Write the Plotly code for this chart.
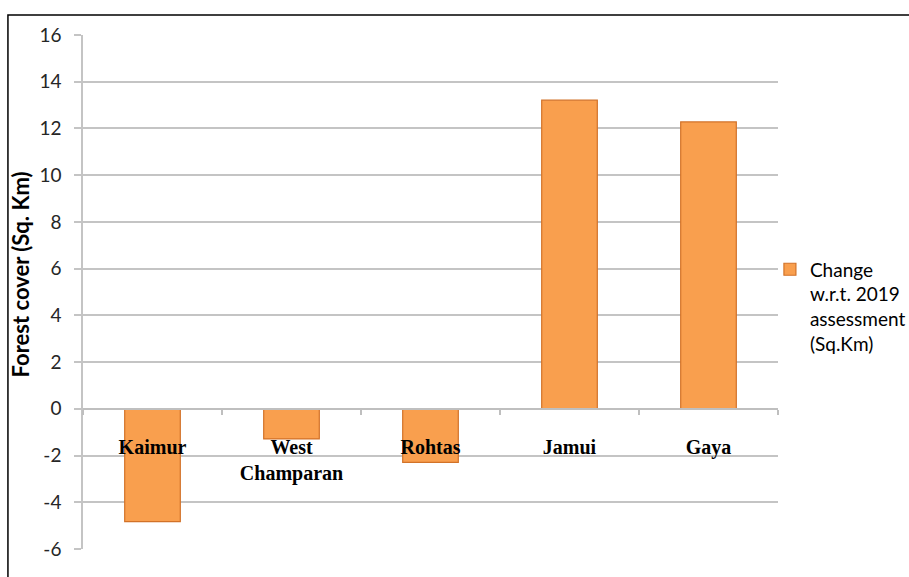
import plotly.graph_objects as go

districts = ["Kaimur", "West<br>Champaran", "Rohtas", "Jamui", "Gaya"]
change = [-4.83, -1.29, -2.29, 13.21, 12.28]
series_name = "Change<br>w.r.t. 2019<br>assessment<br>(Sq.Km)"
y_ticks = list(range(-6, 17, 2))
y_ticktext = ["-6", "-4", "-2", "0", "2", "4", "6", "8", "10", "12", "14", "16"]
y_min, y_max = -6, 16

fig = go.Figure()
fig.add_trace(go.Bar(
    x=districts, y=change, name=series_name,
    marker=dict(color="#F99F4E", line=dict(color="#D27228", width=1.2)),
    width=0.4,
))
# invisible trace to carry the zero-crossing category axis
fig.add_trace(go.Scatter(x=districts, y=change, mode="none", xaxis="x2",
                         showlegend=False, hoverinfo="skip"))

fig.update_layout(
    width=909, height=577,
    margin=dict(l=83, r=131, t=35, b=28, autoexpand=False),
    paper_bgcolor="white", plot_bgcolor="white",
    showlegend=True,
    legend=dict(xref="container", yref="container",
                x=0.847, y=0.566, xanchor="left", yanchor="top",
                valign="top",
                font=dict(family="Lato", size=19, color="#000000"),
                itemwidth=30, tracegroupgap=0, bgcolor="rgba(0,0,0,0)"),
    xaxis=dict(type="category", categoryarray=districts, range=[-0.5, 4.5],
               showticklabels=False, showgrid=False, showline=False,
               zeroline=False, ticks=""),
    xaxis2=dict(type="category", categoryarray=districts, range=[-0.5, 4.5],
                overlaying="x", anchor="free",
                position=(0 - y_min) / (y_max - y_min),
                side="bottom", showline=True, linecolor="#BFBFBF", linewidth=1.5,
                ticks="outside", tickson="boundaries", ticklen=5,
                tickcolor="#BFBFBF", tickwidth=1.5,
                showgrid=False, zeroline=False,
                ticklabelstandoff=20,
                tickprefix="<b>", ticksuffix="</b>",
                tickfont=dict(family="Liberation Serif", size=20, color="#000000"),
                layer="above traces"),
    yaxis=dict(range=[y_min, y_max], tickvals=y_ticks, ticktext=y_ticktext,
               showgrid=True, gridcolor="#C4C4C4", gridwidth=1.5,
               zeroline=False, showline=True, linecolor="#C4C4C4", linewidth=1.5,
               ticks="outside", ticklen=7, tickcolor="#C4C4C4", tickwidth=1.5,
               tickfont=dict(family="Lato", size=19, color="#262626"),
               ticklabelstandoff=9),
    annotations=[dict(text="<b>Forest cover (Sq. Km)</b>", textangle=-90,
                      xref="paper", yref="paper", x=-0.09, y=0.535,
                      xanchor="center", yanchor="middle", showarrow=False,
                      font=dict(family="Lato", size=22, color="#000000"))],
    shapes=[dict(type="rect", xref="paper", yref="paper",
                 x0=-0.108, x1=1.4, y0=-0.2, y1=1.039,
                 line=dict(color="#000000", width=1.5), layer="below")],
)

fig.write_html("out.html")
